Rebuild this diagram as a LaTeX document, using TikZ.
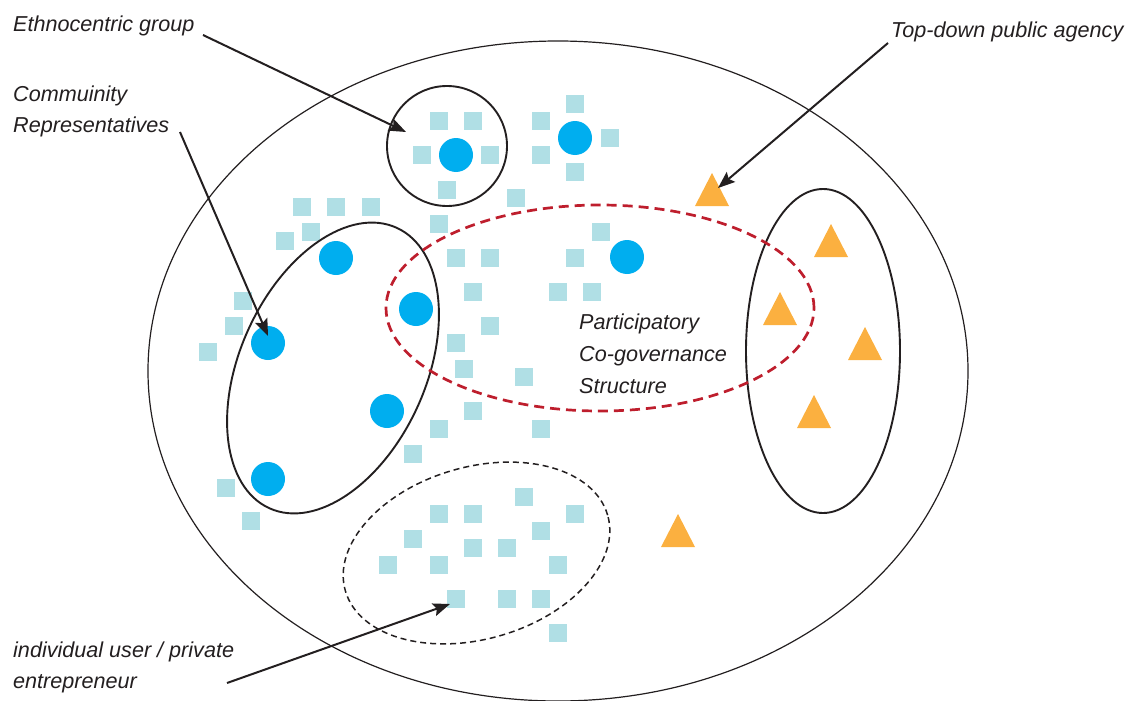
\documentclass[tikz,border=0pt]{standalone}
\usepackage{fontspec}
\setmainfont{Liberation Sans}
\usetikzlibrary{shapes.geometric,arrows.meta}
\definecolor{sqcol}{HTML}{B0DFE5}
\definecolor{dotcol}{HTML}{00AEEF}
\definecolor{tricol}{HTML}{FBB040}
\definecolor{redcol}{HTML}{BE1E2D}
\definecolor{inkcol}{HTML}{231F20}
\tikzset{
  sq/.style={rectangle,fill=sqcol,minimum size=18pt,inner sep=0pt},
  dot/.style={circle,fill=dotcol,minimum size=34pt,inner sep=0pt},
  tri/.style={fill=tricol},
  lab/.style={font=\fontsize{21.6pt}{26pt}\selectfont\itshape,text=inkcol,anchor=base west,inner sep=0pt},
  pointer/.style={draw=inkcol,line width=2pt,-{Stealth[length=17pt,width=13pt,inset=3pt]}},
  group/.style={draw=inkcol,line width=1.9pt,inner sep=0pt}
}
\begin{document}
\begin{tikzpicture}[x=1pt,y=1pt]
\useasboundingbox (0,0) rectangle (1135,-701);
% big ellipse
\node[ellipse,draw=inkcol,line width=1.2pt,inner sep=0pt,minimum width=820pt,minimum height=660pt] (world) at (558,-371) {};
% squares
\foreach \x/\y [count=\i] in {439/121,473/121,422/155,490/155,447/190,
  541/121,575/104,541/155,610/138,575/172,
  516/198,439/224,601/232,
  302/207,336/207,371/207,285/241,311/232,
  243/301,234/326,208/352,
  456/258,490/258,575/258,473/292,558/292,592/292,490/326,456/343,464/369,524/377,473/411,439/429,541/429,
  413/454,226/488,251/521,
  524/497,439/514,473/514,575/514,541/531,413/539,473/548,507/548,388/565,439/565,558/565,456/599,507/599,541/599,558/633}
  \node[sq] (sq\i) at (\x,-\y) {};
% blue dots
\foreach \x/\y [count=\i] in {456/155,575/138,336/258,416/309,268/343,387/411,268/479,627/257}
  \node[dot] (dot\i) at (\x,-\y) {};
% triangles
\foreach \x/\y in {712/173,831/224,780/292,865/327,814/395,678/514}
  \fill[tri] (\x,-\y) -- ++(17,-33) -- ++(-34,0) -- cycle;
% groups
\node[group,circle,minimum size=120pt] (ethno) at (447,-146) {};
\node[group,ellipse,minimum width=308pt,minimum height=186pt,rotate=65.6] (comm) at (333,-368) {};
\node[group,ellipse,minimum width=154pt,minimum height=324pt] (agency) at (823,-351) {};
\node[ellipse,draw=redcol,line width=2.7pt,dash pattern=on 10pt off 6pt,inner sep=0pt,minimum width=428pt,minimum height=206pt] (cogov) at (600,-308) {};
\node[ellipse,draw=inkcol,line width=1.5pt,dash pattern=on 6pt off 4pt,inner sep=0pt,minimum width=273pt,minimum height=172pt,rotate=16.1] (indiv) at (476.5,-553) {};
% labels
\node[lab] (lethno) at (13,-32) {Ethnocentric group};
\node[lab] (lcomm1) at (13,-101) {Commuinity};
\node[lab] (lcomm2) at (13,-132) {Representatives};
\node[lab] (ltop) at (891,-38) {Top-down public agency};
\node[lab] (lpart1) at (579,-329) {Participatory};
\node[lab] (lpart2) at (579,-361) {Co-governance};
\node[lab] (lpart3) at (579,-393) {Structure};
\node[lab] (lind1) at (13,-657) {individual user / private};
\node[lab] (lind2) at (13,-688) {entrepreneur};
% arrows
\coordinate (aEs) at (203,-35);
\coordinate (aEt) at (406,-132);
\coordinate (aCs) at (180,-132);
\coordinate (aCt) at (268,-336);
\coordinate (aTs) at (888,-43);
\coordinate (aTt) at (718,-188);
\coordinate (aIs) at (227,-683);
\coordinate (aIt) at (450,-604);
\draw[pointer] (aEs) -- (aEt);
\draw[pointer] (aCs) -- (aCt);
\draw[pointer] (aTs) -- (aTt);
\draw[pointer] (aIs) -- (aIt);
\end{tikzpicture}
\end{document}
